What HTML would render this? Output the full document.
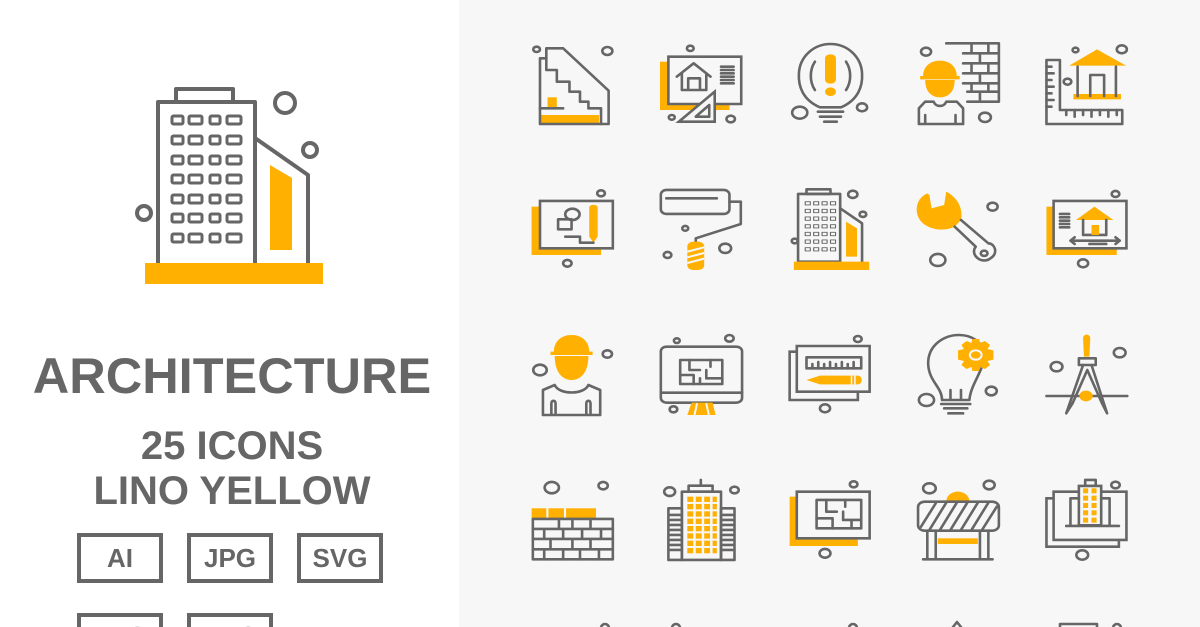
<!DOCTYPE html>
<html><head><meta charset="utf-8"><style>
html,body{margin:0;padding:0;width:1200px;height:627px;overflow:hidden;background:#fff}
svg{display:block}
text{font-family:"Liberation Sans",sans-serif;font-weight:bold;fill:#666}
.s{fill:none;stroke:#666;stroke-width:2.6;vector-effect:non-scaling-stroke;stroke-linejoin:round;stroke-linecap:round}
.w{fill:#f7f7f7;stroke:#666;stroke-width:2.6;vector-effect:non-scaling-stroke}
.y{fill:#ffb000}
.yw{fill:none;stroke:#f7f7f7;stroke-width:2;vector-effect:non-scaling-stroke}
</style></head><body>
<svg width="1200" height="627" viewBox="0 0 1200 627" xmlns="http://www.w3.org/2000/svg">
<rect x="459" y="0" width="741" height="627" fill="#f7f7f7"/>
<g fill="none" stroke="#666" stroke-width="4" stroke-linejoin="round">
<rect x="176" y="89" width="57" height="13"/>
<rect x="158" y="102" width="97" height="163"/>
<path d="M255 138 L308 175 L308 265"/>
<circle cx="285" cy="103" r="10"/><circle cx="310" cy="150" r="7"/><circle cx="144" cy="213" r="7"/>
</g>
<g fill="none" stroke="#666" stroke-width="3">
<g id="wr"><rect x="172" y="116" width="11" height="8" rx="1.5"/><rect x="189" y="116" width="13" height="8" rx="1.5"/><rect x="210" y="116" width="10" height="8" rx="1.5"/><rect x="227" y="116" width="14" height="8" rx="1.5"/></g>
<use href="#wr" y="20"/><use href="#wr" y="40"/><use href="#wr" y="59"/><use href="#wr" y="79"/><use href="#wr" y="98"/><use href="#wr" y="118"/>
</g>
<path d="M270 165 L292 178 L292 250 L270 250Z" fill="#ffb000"/>
<rect x="145" y="263" width="178" height="21" fill="#ffb000"/>
<text x="232" y="393" font-size="50.5" text-anchor="middle">ARCHITECTURE</text>
<text x="232" y="459" font-size="40" text-anchor="middle">25 ICONS</text>
<text x="232" y="504" font-size="40" text-anchor="middle">LINO YELLOW</text>
<g fill="none" stroke="#666" stroke-width="4">
<rect x="79" y="535" width="82" height="46"/><rect x="189" y="535" width="82" height="46"/><rect x="299" y="535" width="82" height="46"/>
<rect x="79" y="615" width="82" height="46"/><rect x="189" y="615" width="82" height="46"/>
</g>
<text x="120" y="567" font-size="26" text-anchor="middle">AI</text>
<text x="230" y="567" font-size="26" text-anchor="middle">JPG</text>
<text x="340" y="567" font-size="26" text-anchor="middle">SVG</text>
<text x="120" y="645" font-size="26" text-anchor="middle">EPS</text>
<text x="230" y="645" font-size="26" text-anchor="middle">PNG</text>

<g transform="translate(500,20) scale(0.421,0.3333)">
<rect class="y" x="95" y="285" width="140" height="24"/>
<rect class="y" x="113" y="232" width="22" height="30"/>
<path class="s" d="M110 85 L150 85 L258 212 L258 312 L95 312 L95 115 L110 115Z"/>
<path class="s" d="M110 115 L110 150 L135 150 L135 185 L165 185 L165 215 L190 215 L190 245 L210 245 L210 265 L240 265 L240 312 M95 265 L150 265"/>
<ellipse class="s" cx="87" cy="88" rx="8" ry="8"/><ellipse class="s" cx="255" cy="93" rx="12" ry="12"/>
<rect class="y" x="380" y="125" width="165" height="145"/>
<rect class="w" x="400" y="110" width="173" height="142"/>
<path class="s" d="M420 170 L460 130 L500 170 M432 160 L432 210 L490 210 L490 160 M447 210 L447 175 L475 175 L475 210"/>
<path class="s" d="M525 140H555M525 150H555M525 160H555M525 170H555M525 180H555M525 190H555"/>
<path class="w" d="M425 305 L510 215 L510 305Z"/><path class="s" d="M465 290 L497 255 L497 290Z"/>
<ellipse class="s" cx="452" cy="85" rx="8" ry="8"/><ellipse class="s" cx="408" cy="292" rx="7" ry="7"/><ellipse class="s" cx="548" cy="297" rx="10" ry="10"/>
<path class="s" d="M760 262 C720 240 708 200 710 160 C712 110 745 72 785 72 C825 72 858 110 860 160 C862 200 850 240 810 262 Z M755 275H815M760 290H810M770 305H800"/>
<path class="s" d="M748 125 C735 150 735 185 748 210 M822 125 C835 150 835 185 822 210"/>
<rect class="y" x="772" y="103" width="26" height="88" rx="12"/><ellipse class="y" cx="785" cy="215" rx="13" ry="13"/>
<ellipse class="s" cx="712" cy="278" rx="18" ry="18"/><ellipse class="s" cx="860" cy="262" rx="12" ry="12"/>
<path class="y" d="M1005 168 C1005 140 1022 122 1045 122 C1068 122 1085 140 1085 168 L1092 168 L1092 178 L998 178 L998 168Z"/>
<path class="y" d="M1010 180 L1080 180 C1080 215 1065 232 1045 232 C1025 232 1010 215 1010 180Z"/>
<path class="s" d="M995 312 L995 265 L1010 245 L1030 245 C1035 262 1055 262 1060 245 L1085 245 L1100 265 L1100 312Z M1010 312V285M1082 312V285"/>
<path class="s" d="M1185 70V245M1060 70H1185M1100 100H1185M1100 130H1185M1100 160H1185M1100 190H1185M1110 215H1185M1110 245H1185M1120 70V100M1160 70V100M1140 100V130M1120 130V160M1160 130V160M1140 160V190M1120 190V215M1160 190V215M1140 215V245"/>
<ellipse class="s" cx="1012" cy="95" rx="12" ry="12"/><ellipse class="s" cx="1152" cy="292" rx="14" ry="14"/>
<path class="s" d="M1298 120 L1330 120 L1330 270 L1478 270 L1478 312 L1298 312Z"/>
<path class="s" d="M1298 140H1310M1298 160H1315M1298 180H1310M1298 200H1315M1298 220H1310M1298 240H1315M1298 260H1310M1345 270V285M1365 270V290M1385 270V285M1405 270V290M1425 270V285M1445 270V290M1465 270V285"/>
<path class="y" d="M1352 137 L1418 88 L1487 137Z"/>
<rect class="y" x="1362" y="222" width="113" height="16"/>
<path class="s" d="M1372 140 L1372 228 M1463 140 L1463 228 M1402 228 L1402 165 L1435 165 L1435 228"/>
<ellipse class="s" cx="1367" cy="90" rx="7" ry="7"/><ellipse class="s" cx="1477" cy="88" rx="12" ry="12"/><ellipse class="s" cx="1348" cy="185" rx="9" ry="9"/>

<rect class="y" x="75" y="560" width="165" height="145"/>
<rect class="w" x="95" y="543" width="173" height="142"/>
<ellipse class="s" cx="172" cy="583" rx="17" ry="17"/><rect class="s" x="138" y="598" width="32" height="30"/>
<path class="y" d="M212 562 C212 552 232 552 232 562 L232 650 L222 668 L212 650Z"/>
<path class="s" d="M155 650 L190 650 L190 668 L222 668"/>
<ellipse class="s" cx="240" cy="520" rx="9" ry="9"/><ellipse class="s" cx="160" cy="730" rx="10" ry="10"/>
<rect class="s" x="382" y="510" width="163" height="72" rx="14"/>
<path class="s" d="M395 535H515M545 545H572V612L465 655V670"/>
<rect class="y" x="445" y="665" width="40" height="85" rx="14"/>
<path class="yw" d="M445 695 L485 682 M445 712 L485 699 M445 729 L485 716"/>
<ellipse class="s" cx="440" cy="625" rx="7" ry="7"/><ellipse class="s" cx="398" cy="705" rx="9" ry="9"/><ellipse class="s" cx="535" cy="685" rx="14" ry="14"/>
<rect class="s" x="728" y="508" width="57" height="14"/>
<rect class="s" x="708" y="522" width="100" height="203"/>
<path class="s" d="M808 565 L860 610 L860 725"/>
<g class="s"><path d="M725 545h12v10h-12zM745 545h12v10h-12zM765 545h12v10h-12zM785 545h12v10h-12z"/><path d="M725 568h12v10h-12zM745 568h12v10h-12zM765 568h12v10h-12zM785 568h12v10h-12z"/><path d="M725 591h12v10h-12zM745 591h12v10h-12zM765 591h12v10h-12zM785 591h12v10h-12z"/><path d="M725 614h12v10h-12zM745 614h12v10h-12zM765 614h12v10h-12zM785 614h12v10h-12z"/><path d="M725 637h12v10h-12zM745 637h12v10h-12zM765 637h12v10h-12zM785 637h12v10h-12z"/><path d="M725 660h12v10h-12zM745 660h12v10h-12zM765 660h12v10h-12zM785 660h12v10h-12z"/><path d="M725 683h12v10h-12zM745 683h12v10h-12zM765 683h12v10h-12zM785 683h12v10h-12z"/></g>
<path class="y" d="M822 605 L848 625 L848 710 L822 710Z"/>
<rect class="y" x="698" y="725" width="179" height="25"/>
<ellipse class="s" cx="838" cy="523" rx="11" ry="11"/><ellipse class="s" cx="862" cy="583" rx="8" ry="8"/><ellipse class="s" cx="700" cy="663" rx="7" ry="7"/>
<path class="y" d="M1015 520 C985 535 980 590 1010 615 C1035 635 1065 630 1080 620 L1095 600 C1100 570 1090 535 1060 515 L1055 555 L1025 565 L1020 525Z"/>
<path class="s" d="M1080 620 L1130 680 M1095 600 L1160 670 M1130 680 C1115 705 1145 735 1165 715 C1185 700 1175 670 1160 670"/>
<ellipse class="s" cx="1150" cy="700" rx="8" ry="8"/>
<ellipse class="s" cx="1170" cy="560" rx="12" ry="12"/><ellipse class="s" cx="1040" cy="720" rx="18" ry="18"/>
<rect class="y" x="1298" y="560" width="167" height="145"/>
<rect class="w" x="1315" y="543" width="173" height="142"/>
<path class="s" d="M1330 582H1352M1330 592H1352M1330 602H1352M1330 612H1352M1330 622H1352"/>
<path class="y" d="M1368 600 L1412 560 L1457 600Z"/>
<path class="s" d="M1385 600V645H1440V600"/>
<rect class="y" x="1405" y="615" width="18" height="30"/>
<path class="s" d="M1355 662H1472M1365 652L1355 662L1365 672M1462 652L1472 662L1462 672M1400 672H1440"/>
<ellipse class="s" cx="1462" cy="522" rx="9" ry="9"/><ellipse class="s" cx="1385" cy="730" rx="12" ry="12"/>
</g>

<g transform="translate(500,320) scale(0.421,0.3333)">
<path class="y" d="M128 95 C128 65 145 45 170 45 C195 45 212 65 212 95 L220 95 L220 105 L120 105 L120 95Z"/>
<path class="y" d="M130 108 L210 108 C210 155 193 180 170 180 C147 180 130 155 130 108Z"/>
<path class="s" d="M102 285 L102 210 L130 195 C140 225 200 225 210 195 L238 210 L238 285Z M122 285V250 C122 240 132 240 132 250 V285 M205 285V250 C205 240 215 240 215 250 V285"/>
<ellipse class="s" cx="95" cy="150" rx="16" ry="16"/><ellipse class="s" cx="255" cy="102" rx="11" ry="11"/>
<rect class="s" x="382" y="80" width="193" height="168" rx="14"/>
<path class="s" d="M382 218H575"/>
<rect class="s" x="428" y="120" width="100" height="72"/>
<path class="s" d="M450 120V150H475M500 120V140M428 165H460V192M490 150V175H528M475 175V192"/>
<path class="y" d="M455 248H505L512 285H445Z"/>
<path d="M468 250 L462 285 M490 250 L496 285" stroke="#f7f7f7" stroke-width="2" vector-effect="non-scaling-stroke"/>
<ellipse class="s" cx="420" cy="62" rx="7" ry="7"/><ellipse class="s" cx="545" cy="55" rx="10" ry="10"/><ellipse class="s" cx="412" cy="268" rx="9" ry="9"/>
<rect class="w" x="688" y="95" width="162" height="145"/>
<rect class="w" x="705" y="78" width="173" height="137"/>
<rect class="s" x="728" y="112" width="130" height="33"/>
<path class="s" d="M742 145V132M756 145V126M770 145V132M784 145V126M798 145V132M812 145V126M826 145V132M840 145V126"/>
<path class="y" d="M728 180 L760 167 L850 167 C862 167 862 193 850 193 L760 193Z"/>
<path d="M835 167V193M843 167V193" stroke="#f7f7f7" stroke-width="1.5" vector-effect="non-scaling-stroke"/>
<ellipse class="s" cx="850" cy="57" rx="9" ry="9"/><ellipse class="s" cx="772" cy="265" rx="12" ry="12"/>
<path class="s" d="M1050 240 C1050 200 1018 185 1017 130 C1017 75 1055 45 1090 45 C1120 45 1145 65 1150 100 C1152 150 1118 190 1115 240 Z M1048 252H1117M1055 265H1110M1065 280H1100M1070 240V210M1095 240V210"/>
<g transform="translate(1130,105)">
<path class="y" d="M-8 -48H8L10 -36 L22 -42 L34 -30 L28 -18 L42 -14 V14 L28 18 L34 30 L22 42 L10 36 L8 48 H-8 L-10 36 L-22 42 L-34 30 L-28 18 L-42 14 V-14 L-28 -18 L-34 -30 L-22 -42 L-10 -36Z"/>
<ellipse cx="0" cy="0" rx="14" ry="14" fill="none" stroke="#f7f7f7" stroke-width="2" vector-effect="non-scaling-stroke"/>
</g>
<ellipse class="s" cx="1013" cy="240" rx="18" ry="18"/><ellipse class="s" cx="1167" cy="213" rx="13" ry="13"/>
<path class="y" d="M1385 55 C1385 40 1402 40 1402 55 L1400 110 L1387 110Z"/>
<rect class="s" x="1375" y="115" width="40" height="20"/>
<path class="s" d="M1385 135 L1345 280 L1360 250 L1395 150 L1430 250 L1442 280 L1405 135 M1298 228H1490"/>
<ellipse class="y" cx="1392" cy="228" rx="16" ry="16"/>
<ellipse class="s" cx="1322" cy="140" rx="14" ry="14"/><ellipse class="s" cx="1472" cy="98" rx="14" ry="14"/>

<rect class="y" x="75" y="565" width="35" height="30"/><rect class="y" x="115" y="565" width="37" height="30"/><rect class="y" x="157" y="565" width="71" height="30"/>
<rect class="s" x="78" y="597" width="190" height="121"/>
<path class="s" d="M78 627H268M78 657H268M78 688H268M140 597V627M172 597V627M215 597V627M105 627V657M150 627V657M195 627V657M240 627V657M120 657V688M172 657V688M215 657V688M105 688V718M150 688V718M190 688V718M235 688V718"/>
<ellipse class="s" cx="123" cy="503" rx="17" ry="17"/><ellipse class="s" cx="245" cy="497" rx="11" ry="11"/>
<path class="s" d="M477 480V497M448 497H505V515H448Z"/>
<rect class="s" x="432" y="515" width="93" height="205"/>
<rect class="s" x="400" y="565" width="32" height="155"/><rect class="s" x="525" y="565" width="32" height="155"/>
<path class="s" d="M405 585H427M405 600H427M405 615H427M405 630H427M405 645H427M405 660H427M405 675H427M405 690H427M530 585H552M530 600H552M530 615H552M530 630H552M530 645H552M530 660H552M530 675H552M530 690H552"/>
<g class="y"><g id="yw"><rect x="445" y="530" width="14" height="16"/><rect x="465" y="530" width="14" height="16"/><rect x="485" y="530" width="14" height="16"/><rect x="505" y="530" width="10" height="16"/></g>
<use href="#yw" y="22"/><use href="#yw" y="44"/><use href="#yw" y="66"/><use href="#yw" y="88"/><use href="#yw" y="110"/><use href="#yw" y="132"/><use href="#yw" y="154"/></g>
<ellipse class="s" cx="403" cy="515" rx="13" ry="13"/><ellipse class="s" cx="557" cy="510" rx="10" ry="10"/>
<rect class="y" x="688" y="530" width="162" height="148"/>
<rect class="w" x="705" y="515" width="173" height="140"/>
<rect class="s" x="752" y="540" width="106" height="85"/>
<path class="s" d="M775 540V575H800M820 540V560M752 595H790V625M815 575V600H858M835 600V625"/>
<ellipse class="s" cx="840" cy="493" rx="9" ry="9"/><ellipse class="s" cx="772" cy="700" rx="13" ry="13"/>
<path class="y" d="M1060 545 C1060 525 1075 515 1087 515 C1100 515 1115 525 1115 545Z"/>
<rect class="s" x="993" y="545" width="192" height="87" rx="16"/>
<path class="s" d="M1000 620 L1035 550 M1020 630 L1060 548 M1045 630 L1085 548 M1070 630 L1110 548 M1095 630 L1135 548 M1120 630 L1160 548 M1145 630 L1180 560"/>
<path class="s" d="M1015 632V718M1035 632V718M1140 632V718M1160 632V718M1005 718H1170"/>
<rect class="y" x="1040" y="655" width="95" height="17"/>
<ellipse class="s" cx="1020" cy="505" rx="15" ry="15"/><ellipse class="s" cx="1162" cy="495" rx="13" ry="13"/>
<rect class="w" x="1298" y="535" width="172" height="145"/>
<rect class="w" x="1315" y="515" width="173" height="145"/>
<path class="s" d="M1390 480H1415V498H1390Z"/>
<rect class="w" x="1375" y="498" width="53" height="118"/>
<path class="s" d="M1355 616V535H1375M1428 535H1448V616M1345 618H1470"/>
<g class="y"><rect x="1385" y="505" width="12" height="15"/><rect x="1405" y="505" width="12" height="15"/><rect x="1385" y="527" width="12" height="15"/><rect x="1405" y="527" width="12" height="15"/><rect x="1385" y="549" width="12" height="15"/><rect x="1405" y="549" width="12" height="15"/><rect x="1385" y="571" width="12" height="15"/><rect x="1405" y="571" width="12" height="15"/><rect x="1385" y="593" width="12" height="15"/><rect x="1405" y="593" width="12" height="15"/></g>
<ellipse class="s" cx="1462" cy="495" rx="10" ry="10"/><ellipse class="s" cx="1383" cy="705" rx="14" ry="14"/>
</g>
<g class="s">
<circle cx="605" cy="628" r="4"/><circle cx="676" cy="628" r="4"/><circle cx="853" cy="628" r="4"/><path d="M953 627 L957 622 L961 627"/><path d="M1060 627V624H1097V627"/><circle cx="1117" cy="628" r="4"/>
</g>
</svg>
</body></html>
